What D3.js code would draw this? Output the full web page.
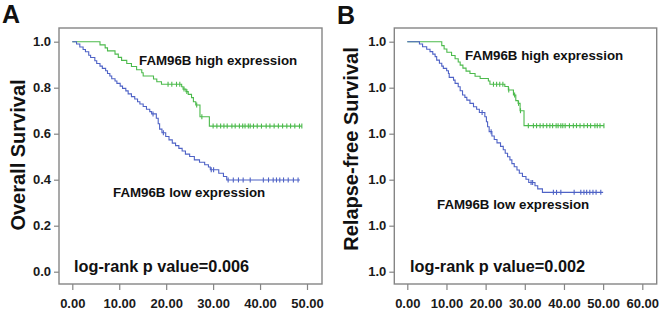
<!DOCTYPE html>
<html><head><meta charset="utf-8">
<script src="https://cdn.jsdelivr.net/npm/d3@7"></script>
<style>
html,body{margin:0;padding:0;background:#fff;}
svg{display:block;font-family:"Liberation Sans",Arial,sans-serif;}
</style></head>
<body>
<svg id="chart" width="669" height="311"></svg>
<script>
// ---------- DATA ----------
// Panel A: Overall Survival
const aHighTimes = [5.9,7.0,7.5,9.1,9.8,10.5,11.6,12.6,13.7,14.8,15.1,17.3,18.0,19.0,23.3,23.6,24.2,24.7,25.4,25.8,26.3,27.2,29.2];
const aHighSurv  = [0.986,0.973,0.960,0.946,0.932,0.919,0.905,0.892,0.878,0.865,0.851,0.838,0.826,0.815,0.804,0.794,0.783,0.771,0.757,0.739,0.725,0.674,0.633];
const aHighEnd = 48.9;
const aHighCensor = [20.4,21.2,22.2,22.9,23.8,24.4,26.5,27.6,30.0,30.8,31.6,32.3,33.0,34.0,34.7,35.6,36.3,36.8,37.5,37.9,38.6,39.4,40.3,41.3,42.1,43.0,43.9,44.8,45.7,46.5,47.4,48.4,48.9];

const aLowTimes = [0.9,1.6,2.3,2.8,3.5,3.9,4.8,5.2,5.9,6.4,7.1,7.5,8.0,8.4,9.1,9.5,10.2,10.7,11.4,11.9,12.6,13.3,13.9,14.4,15.1,15.8,16.5,16.9,17.9,18.3,18.6,19.1,19.9,20.6,21.3,22.0,22.7,23.4,24.1,25.0,26.0,27.1,28.2,29.0,29.4,31.2,32.2,32.9];
const aLowSurv  = [0.990,0.977,0.966,0.956,0.941,0.931,0.917,0.905,0.894,0.884,0.874,0.862,0.851,0.839,0.829,0.819,0.807,0.797,0.786,0.773,0.761,0.751,0.739,0.729,0.718,0.706,0.696,0.686,0.667,0.643,0.620,0.604,0.588,0.573,0.559,0.548,0.536,0.525,0.511,0.501,0.486,0.476,0.465,0.455,0.443,0.428,0.414,0.399];
const aLowEnd = 48.5;
const aLowCensor = [17.2,19.4,29.6,30.1,33.2,34.3,35.4,36.4,37.9,40.7,41.8,42.8,43.5,44.2,45.0,46.0,47.1,48.1];

// Panel B: Relapse-free Survival
const bHighTimes = [8.8,9.4,10.1,11.3,12.2,13.0,13.5,14.2,15.0,16.0,17.3,18.6,20.7,21.1,24.9,25.8,27.1,27.7,28.3,28.8,29.8];
const bHighSurv  = [0.983,0.968,0.954,0.940,0.926,0.912,0.898,0.885,0.872,0.862,0.850,0.840,0.829,0.815,0.805,0.790,0.768,0.744,0.732,0.700,0.635];
const bHighEnd = 50.2;
const bHighCensor = [22.0,22.8,23.6,24.4,25.9,27.4,28.4,28.9,30.9,32.2,33.0,33.9,34.7,35.6,36.4,37.1,38.0,38.5,39.2,39.7,40.3,41.4,42.4,43.2,44.1,45.1,46.0,46.8,47.9,48.5,49.2,50.2];

const bLowTimes = [3.1,3.9,4.95,5.8,6.5,7.1,7.5,8.2,8.8,9.2,10.05,10.5,10.7,11.8,12.2,13.0,13.5,14.1,14.7,15.2,16.0,16.9,17.7,18.4,19.8,20.2,20.5,20.9,21.6,22.2,22.9,23.8,24.5,25.0,25.6,26.2,26.7,27.3,28.0,28.6,29.4,30.3,31.0,32.6,33.3,34.5];
const bLowSurv  = [0.990,0.978,0.967,0.957,0.946,0.935,0.920,0.906,0.894,0.884,0.874,0.862,0.845,0.833,0.819,0.804,0.787,0.768,0.758,0.746,0.732,0.717,0.706,0.692,0.674,0.652,0.630,0.609,0.590,0.575,0.560,0.545,0.530,0.515,0.500,0.486,0.470,0.456,0.442,0.428,0.414,0.402,0.388,0.374,0.360,0.345];
const bLowEnd = 50.0;
const bLowCensor = [19.1,21.4,31.6,32.0,37.3,38.1,39.2,42.6,44.3,45.1,45.8,46.6,47.4,48.2,49.4];

// Tick labels
const yTickValues = [0,0.2,0.4,0.6,0.8,1.0];
const aYTickLabels = ["0.0","0.2","0.4","0.6","0.8","1.0"];
const bYTickLabels = ["1.0","1.0","1.0","1.0","1.0","1.0"];
const aXTickValues = [0,10,20,30,40,50];
const aXTickLabels = ["0.00","10.00","20.00","30.00","40.00","50.00"];
const bXTickValues = [0,10,20,30,40,50,60];
const bXTickLabels = ["0.00","10.00","20.00","30.00","40.00","50.00","60.00"];

const highLabel = "FAM96B high expression";
const lowLabel = "FAM96B low expression";

// ---------- STYLE / LAYOUT ----------
const GREEN = "#4cba4c";
const BLUE = "#4f63c6";
const FRAME = "#858585";

const svg = d3.select("#chart");

function panel(cfg){
  const g = svg.append("g");
  const x = d3.scaleLinear().domain(cfg.xDomain).range(cfg.xRange);
  const y = d3.scaleLinear().domain([0,1]).range([271.7,41.7]);

  // frame
  g.append("rect").attr("x",cfg.frame[0]).attr("y",cfg.frame[1])
    .attr("width",cfg.frame[2]-cfg.frame[0]).attr("height",cfg.frame[3]-cfg.frame[1])
    .attr("fill","none").attr("stroke",FRAME).attr("stroke-width",1.4);

  // y axis
  const ya = g.append("g").attr("transform",`translate(${cfg.frame[0]},0)`)
    .call(d3.axisLeft(y).tickValues(yTickValues).tickFormat((d,i)=>cfg.yLabels[i]).tickSize(5).tickPadding(3));
  ya.select(".domain").remove();
  ya.selectAll("line").attr("stroke",FRAME).attr("stroke-width",1.2);
  ya.selectAll("text").attr("font-size",13).attr("font-weight","bold").attr("fill","#1a1a1a")
    .attr("font-family","Liberation Sans, Arial, sans-serif");

  // x axis
  const xa = g.append("g").attr("transform",`translate(0,${cfg.frame[3]})`)
    .call(d3.axisBottom(x).tickValues(cfg.xTicks).tickFormat((d,i)=>cfg.xLabels[i]).tickSize(6).tickPadding(9));
  xa.select(".domain").remove();
  xa.selectAll("line").attr("stroke",FRAME).attr("stroke-width",1.2);
  xa.selectAll("text").attr("font-size",13).attr("font-weight","bold").attr("fill","#1a1a1a")
    .attr("font-family","Liberation Sans, Arial, sans-serif");

  const line = d3.line().x(d=>x(d[0])).y(d=>y(d[1])).curve(d3.curveStepAfter);

  function curve(times,surv,end,censor,color){
    const pts = [[0,1]];
    times.forEach((t,i)=>pts.push([t,surv[i]]));
    pts.push([end,surv[surv.length-1]]);
    g.append("path").datum(pts).attr("d",line).attr("fill","none")
      .attr("stroke",color).attr("stroke-width",1.1);
    const bis = d3.bisector(d=>d).right;
    const sAt = t => { const k = bis(times,t); return k===0 ? 1 : surv[k-1]; };
    g.append("g").selectAll("line").data(censor).join("line")
      .attr("x1",d=>x(d)).attr("x2",d=>x(d))
      .attr("y1",d=>y(sAt(d))-2.5).attr("y2",d=>y(sAt(d))+2.5)
      .attr("stroke",color).attr("stroke-width",1.1);
  }
  curve(cfg.high[0],cfg.high[1],cfg.high[2],cfg.high[3],GREEN);
  curve(cfg.low[0],cfg.low[1],cfg.low[2],cfg.low[3],BLUE);

  const T = (txt,xx,yy,size)=> g.append("text").attr("x",xx).attr("y",yy)
      .attr("font-size",size).attr("font-weight","bold").attr("fill","#111").text(txt);
  T(cfg.letter, cfg.letterPos[0], cfg.letterPos[1], 25);
  T(highLabel, cfg.highPos[0], cfg.highPos[1], 13.3);
  T(lowLabel, cfg.lowPos[0], cfg.lowPos[1], 13.3);
  T(cfg.pText, cfg.pPos[0], cfg.pPos[1], 16.3);

  g.append("text").attr("transform",`translate(${cfg.titlePos[0]},${cfg.titlePos[1]}) rotate(-90)`)
    .attr("text-anchor","middle").attr("font-size",20).attr("font-weight","bold").attr("fill","#111")
    .text(cfg.title);
}

panel({
  frame:[59,28,322,284], xDomain:[0,50], xRange:[72.3,307],
  yLabels:aYTickLabels, xTicks:aXTickValues, xLabels:aXTickLabels,
  high:[aHighTimes,aHighSurv,aHighEnd,aHighCensor],
  low:[aLowTimes,aLowSurv,aLowEnd,aLowCensor],
  letter:"A", letterPos:[2,23],
  highPos:[139,65], lowPos:[113,197], pText:"log-rank p value=0.006", pPos:[74,272],
  title:"Overall Survival", titlePos:[24.5,155]
});
panel({
  frame:[394.3,28,656.7,284], xDomain:[0,60], xRange:[407.3,642.3],
  yLabels:bYTickLabels, xTicks:bXTickValues, xLabels:bXTickLabels,
  high:[bHighTimes,bHighSurv,bHighEnd,bHighCensor],
  low:[bLowTimes,bLowSurv,bLowEnd,bLowCensor],
  letter:"B", letterPos:[337,24],
  highPos:[465,60], lowPos:[437,209], pText:"log-rank p value=0.002", pPos:[410,272],
  title:"Relapse-free Survival", titlePos:[357.5,149]
});
</script>
</body></html>
